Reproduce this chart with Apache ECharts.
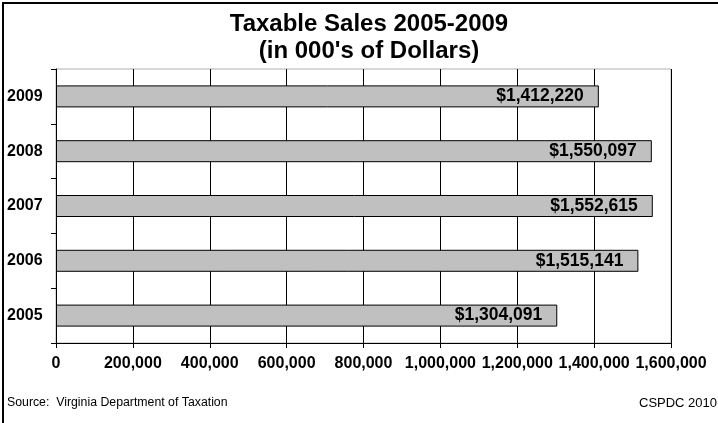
<!DOCTYPE html>
<html>
<head>
<meta charset="utf-8">
<script src="https://cdn.jsdelivr.net/npm/echarts@6/dist/echarts.min.js"></script>
<style>
html,body{margin:0;padding:0;background:#fff;}
#c{width:718px;height:423px;}
</style>
</head>
<body>
<div id="c"></div>
<script>
var years = ['2005', '2006', '2007', '2008', '2009'];
var sales = [1304091, 1515141, 1552615, 1550097, 1412220];
var xTicks = [0, 200000, 400000, 600000, 800000, 1000000, 1200000, 1400000, 1600000];

var FONT = '"Liberation Sans", Arial, sans-serif';
function fmt(n) { return n.toString().replace(/\B(?=(\d{3})+(?!\d))/g, ','); }

var chart = echarts.init(document.getElementById('c'), null, {renderer: 'canvas'});
chart.setOption({
  animation: false,
  backgroundColor: '#fff',
  title: {
    text: 'Taxable Sales 2005-2009\n(in 000\'s of Dollars)',
    left: 364, top: 6, textAlign: 'center',
    textStyle: {fontFamily: FONT, fontWeight: 'bold', fontSize: 24, lineHeight: 27, color: '#000'}
  },
  grid: {left: 56, right: 47, top: 69, bottom: 80, show: true, borderColor: '#b0b0b0', borderWidth: 1, backgroundColor: 'transparent'},
  xAxis: {
    type: 'value', min: xTicks[0], max: xTicks[xTicks.length - 1], interval: xTicks[1] - xTicks[0],
    axisLine: {show: true, lineStyle: {color: '#000', width: 1}},
    axisTick: {show: true, length: 5, lineStyle: {color: '#000'}},
    splitLine: {show: true, lineStyle: {color: '#000', width: 1}},
    axisLabel: {fontFamily: FONT, fontWeight: 'bold', fontSize: 16, color: '#000', margin: 13, hideOverlap: false,
      formatter: function (v) { return fmt(v); }}
  },
  yAxis: {
    type: 'category', data: years,
    axisLine: {show: true, lineStyle: {color: '#000', width: 1}},
    axisTick: {show: true, length: 5, lineStyle: {color: '#000'}},
    axisLabel: {fontFamily: FONT, fontWeight: 'bold', fontSize: 16, color: '#000', align: 'left', margin: 49}
  },
  series: [{
    type: 'bar', data: sales, barWidth: 22,
    itemStyle: {color: '#c0c0c0', borderColor: '#000', borderWidth: 1},
    label: {show: true, position: 'insideRight', distance: 15, fontFamily: FONT, fontWeight: 'bold', fontSize: 17.5, color: '#000',
      formatter: function (p) { return '$' + fmt(p.value); }}
  }],
  graphic: [
    {type: 'rect', shape: {x: 3, y: 3, width: 800, height: 500}, style: {fill: 'none', stroke: '#000', lineWidth: 2}, silent: true},
    {type: 'text', x: 7, y: 403, style: {text: 'Source:  Virginia Department of Taxation', font: '12.3px ' + FONT, fill: '#000', textVerticalAlign: 'middle'}},
    {type: 'text', x: 639, y: 403, style: {text: 'CSPDC 2010', font: '13px ' + FONT, fill: '#000', textVerticalAlign: 'middle'}}
  ]
});
</script>
</body>
</html>
